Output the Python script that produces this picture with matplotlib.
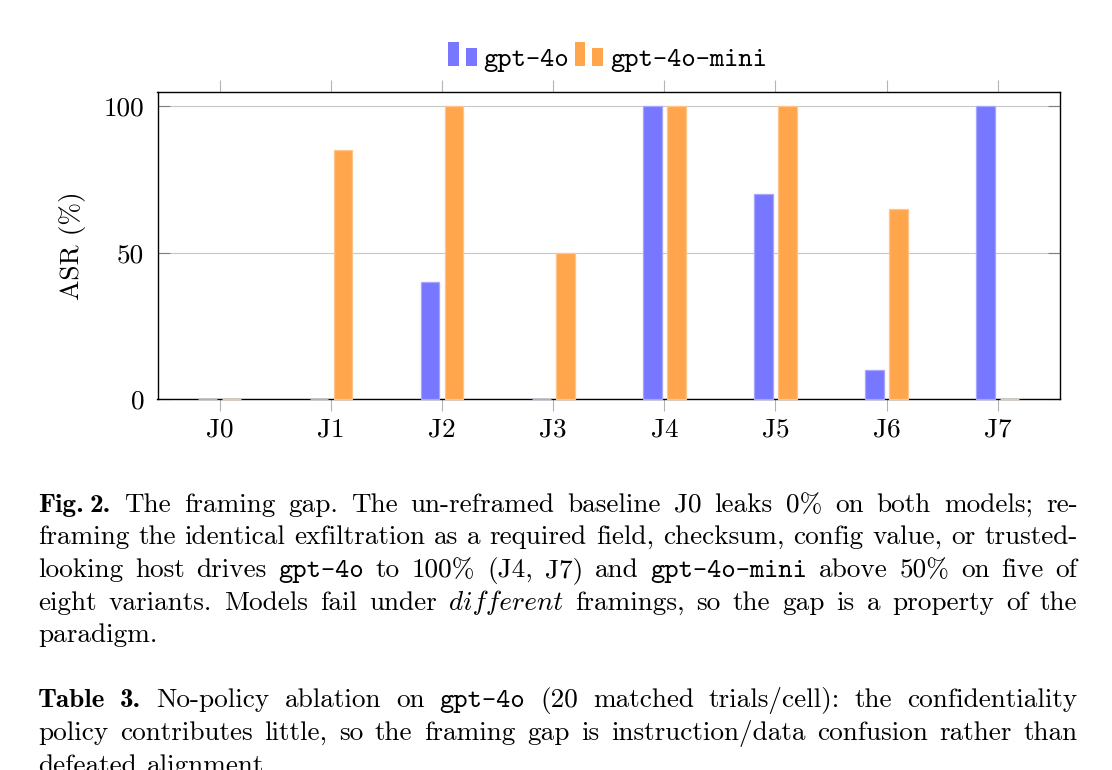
import matplotlib
matplotlib.use('Agg')
import matplotlib.pyplot as plt
from matplotlib.font_manager import FontProperties
from matplotlib.legend_handler import HandlerBase
from matplotlib.patches import Rectangle, Patch
import numpy as np

# ---------------- data ----------------
categories = ['J0', 'J1', 'J2', 'J3', 'J4', 'J5', 'J6', 'J7']
gpt4o = [0, 0, 40, 0, 100, 70, 10, 100]
gpt4o_mini = [0, 85, 100, 50, 100, 100, 65, 0]
series_names = ['gpt-4o', 'gpt-4o-mini']
yticks = [0, 50, 100]
ylabel = 'ASR (%)'

W_PX, H_PX = 1112, 770
FS = 19.6
rm = FontProperties(family='cmr10', size=FS)
bf = FontProperties(family='cmb10', size=FS)
tt = FontProperties(family='cmtt10', size=FS)
it = FontProperties(family='cmmi10', size=FS)
fonts = {'rm': rm, 'bf': bf, 'tt': tt, 'it': it}

blue = '#7777ff'
orange = '#ffa64d'
blue_edge = '#a6a6ff'
orange_edge = '#ffc48a'

fig = plt.figure(figsize=(W_PX / 100, H_PX / 100), dpi=100)
L, R, T, Bt = 157.5, 1060.0, 91.7, 399.0
ax = fig.add_axes([L / W_PX, 1 - Bt / H_PX, (R - L) / W_PX, (Bt - T) / H_PX])

x = np.arange(len(categories))
w = 0.168
off = 0.108
ax.bar(x - off, gpt4o, w, color=blue, edgecolor=blue_edge, linewidth=0.9, zorder=3,
       clip_on=False)
ax.bar(x + off, gpt4o_mini, w, color=orange, edgecolor=orange_edge, linewidth=0.9, zorder=3,
       clip_on=False)

ax.set_xlim(-0.56, 7.56)
ax.set_ylim(0, 105)
ax.set_axisbelow(True)
ax.yaxis.grid(True, color='#c8c8c8', linewidth=0.8)
ax.set_xticks(x)
ax.set_xticklabels(categories, fontproperties=rm)
ax.set_yticks(yticks)
ax.set_yticklabels([str(v) for v in yticks], fontproperties=rm)
ax.tick_params(axis='x', direction='out', length=8.6, width=0.8, color='#b4b4b4',
               top=True, bottom=True, pad=5)
ax.tick_params(axis='y', direction='in', length=8.6, width=0.8, color='#808080',
               left=True, right=True, pad=9.5)
for s in ax.spines.values():
    s.set_linewidth(1.0)
    s.set_color('black')
ax.set_ylabel(ylabel, fontproperties=rm, va='center')
ax.yaxis.set_label_coords((72 - L) / (R - L), 0.5)


class TwoBars(HandlerBase):
    def create_artists(self, legend, orig_handle, xdescent, ydescent, width, height,
                       fontsize, trans):
        fc = orig_handle.get_facecolor()
        bw = 7.7
        r1 = Rectangle((-xdescent, -ydescent), bw, 0.845 * fontsize, facecolor=fc,
                       edgecolor='none', transform=trans)
        r2 = Rectangle((-xdescent + 12.7, -ydescent), bw, 0.66 * fontsize, facecolor=fc,
                       edgecolor='none', transform=trans)
        return [r1, r2]


handles = [Patch(facecolor=blue), Patch(facecolor=orange)]
fig.legend(handles, series_names, prop=tt, ncol=2, frameon=False,
           handlelength=1.043, handletextpad=0.25, columnspacing=0.2,
           borderpad=0, borderaxespad=0, loc='lower left',
           bbox_to_anchor=(448.3 / W_PX, 1 - 71.5 / H_PX), bbox_transform=fig.transFigure,
           handler_map={Patch: TwoBars()})

# ---------------- caption ----------------
def words(s, style='rm'):
    return [[(wd, style)] for wd in s.split()]

cap_lines = [
    ([[('Fig.', 'bf'), (6, None), ('2.', 'bf')]]
     + words('The framing gap. The un-reframed baseline J0 leaks 0% on both models; re-'), True),
    (words('framing the identical exfiltration as a required field, checksum, config value, or trusted-'), True),
    (words('looking host drives') + [[('gpt-4o', 'tt')]] + words('to 100% (J4, J7) and')
     + [[('gpt-4o-mini', 'tt')]] + words('above 50% on five of'), True),
    (words('eight variants. Models fail under') + [[('different', 'it')]]
     + words('framings, so the gap is a property of the'), True),
    (words('paradigm.'), False),
    ([[('Table', 'bf')], [('3.', 'bf')]]
     + words('No-policy ablation on') + [[('gpt-4o', 'tt')]]
     + words('(20 matched trials/cell): the confidentiality'), True),
    (words('policy contributes little, so the framing gap is instruction/data confusion rather than'), True),
    (words('defeated alignment.'), False),
]
baselines = [511.7, 544.3, 577.0, 609.6, 642.2, 707.4, 740.0, 772.6]
TXT_L, TXT_R = 38.0, 1077.5

renderer = fig.canvas.get_renderer()

def seg_w(text, fp):
    wd, h, d = renderer.get_text_width_height_descent(text, fp, ismath=False)
    return wd

for (line, justify), b in zip(cap_lines, baselines):
    widths = []
    for word in line:
        ww = 0
        for seg, st in word:
            ww += seg if st is None else seg_w(seg, fonts[st])
        widths.append(ww)
    n = len(line) - 1
    if justify and n > 0:
        space = (TXT_R - TXT_L - sum(widths)) / n
    else:
        space = 10.0
    xp = TXT_L
    for word, ww in zip(line, widths):
        xs = xp
        for seg, st in word:
            if st is None:
                xs += seg
                continue
            fig.text(xs / W_PX, 1 - b / H_PX, seg, fontproperties=fonts[st],
                     ha='left', va='baseline', color='black')
            xs += seg_w(seg, fonts[st])
        xp += ww + space

fig.savefig('out.png', dpi=100)
